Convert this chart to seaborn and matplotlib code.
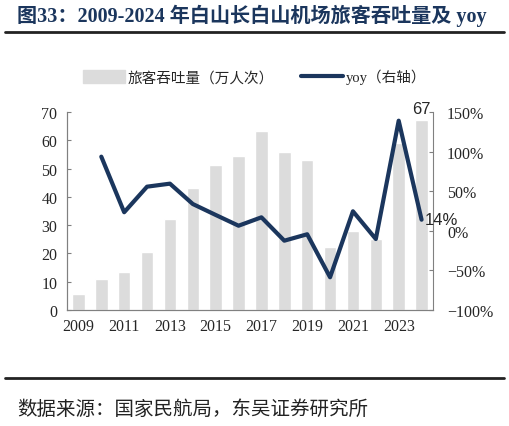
import numpy as np
import pandas as pd
import matplotlib
matplotlib.use("Agg")
import matplotlib.pyplot as plt
import seaborn as sns
from matplotlib.lines import Line2D
from matplotlib.patches import Patch
from matplotlib.ticker import FixedLocator, PercentFormatter

sns.set_style("white")
plt.rcParams['font.family'] = ['Liberation Serif', 'Noto Sans CJK SC', 'DejaVu Sans']

# data
years = [str(y) for y in range(2009, 2025)]
passengers = [5.8, 10.8, 13.4, 20.4, 32.3, 43.1, 51.1, 54.4, 63.4, 55.7, 53.0, 22.4, 27.8, 25.0, 58.9, 67.0]
yoy = [np.nan, 93.6, 23.4, 55.7, 59.5, 33.8, 20.0, 6.4, 17.0, -12.5, -4.4, -58.7, 24.6, -10.4, 139.0, 14.0]

df = pd.DataFrame({"year": years, "passengers": passengers, "yoy": yoy})
df["pos"] = np.arange(len(df))

BAR = "#dcdcdc"
NAVY = "#1b365d"
TICK = 11.5

fig = plt.figure(figsize=(5.09, 4.27), dpi=100)
ax = fig.add_axes([0.1316, 0.2717, 0.7191, 0.4637])

sns.barplot(data=df, x="pos", y="passengers", color=BAR, width=0.55,
            saturation=1, native_scale=True, ax=ax)
ax.set_xlim(-0.5, len(df) - 0.5)
ax.set_ylim(0, 70)
ax.set_yticks(range(0, 71, 10))
ax.set_xlabel("")
ax.set_ylabel("")
ax.xaxis.set_major_locator(FixedLocator(df["pos"][::2].tolist()))
ax.set_xticklabels(years[::2])
ax.xaxis.set_minor_locator(FixedLocator((df["pos"] + 0.5).tolist()[:-1]))
ax.tick_params(axis="x", which="major", length=0, pad=6, labelsize=TICK)
ax.tick_params(axis="x", which="minor", length=3, direction="in", color="#808080")
ax.tick_params(axis="y", length=3, direction="in", color="#808080", labelsize=TICK, pad=7)

ax2 = ax.twinx()
sns.lineplot(data=df, x="pos", y="yoy", color=NAVY, linewidth=3, ax=ax2)
ax2.set_ylim(-100, 150)
ax2.set_yticks(range(-100, 151, 50))
ax2.yaxis.set_major_formatter(PercentFormatter(decimals=0))
ax2.set_ylabel("")
ax2.tick_params(axis="y", length=3, direction="in", color="#808080", labelsize=TICK, pad=10)
ax2.set_xlim(-0.5, len(df) - 0.5)

for a in (ax, ax2):
    a.spines["top"].set_visible(False)
    for s in ("left", "right", "bottom"):
        a.spines[s].set_color("#808080")
        a.spines[s].set_linewidth(0.8)
ax.spines["right"].set_visible(False)

# annotations
last = df.iloc[-1]
ax.text(last["pos"], last["passengers"] + 1.5, "{:.0f}".format(last["passengers"]),
        ha="center", va="bottom", fontsize=12, family="Liberation Sans")
ax2.text(last["pos"] + 0.15, last["yoy"], "{:.0f}%".format(last["yoy"]),
         ha="left", va="center", fontsize=12, family="Liberation Sans")

# legend
handles = [Patch(color=BAR), Line2D([0], [0], color=NAVY, lw=3)]
fig.legend(handles, ["旅客吞吐量（万人次）", "yoy（右轴）"], loc="center",
           bbox_to_anchor=(0.5, 0.818), ncol=2, frameon=False, fontsize=10.5,
           handlelength=2.9, handleheight=1.0, columnspacing=1.8, handletextpad=0.2)

# title, rules and source
fig.text(0.033, 0.962, "图33：2009-2024 年白山长白山机场旅客吞吐量及 yoy",
         fontsize=14.5, fontweight="bold", color=NAVY, va="center", ha="left")
fig.add_artist(Line2D([0.01, 0.99], [0.922, 0.922], color="#222222", lw=2))
fig.add_artist(Line2D([0.01, 0.99], [0.112, 0.112], color="#222222", lw=2))
fig.text(0.033, 0.04, "数据来源：国家民航局，东吴证券研究所", fontsize=14,
         va="center", ha="left", color="#222222")

fig.savefig("out.png", dpi=100)
